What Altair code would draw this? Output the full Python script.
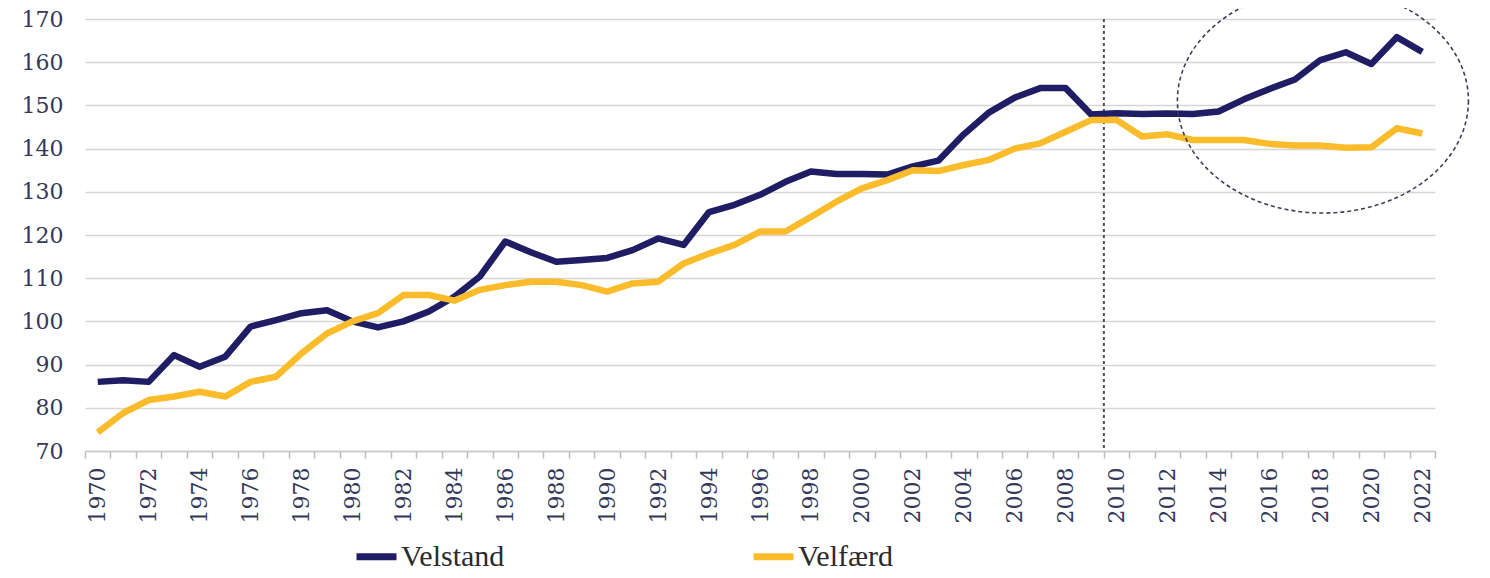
import altair as alt
import pandas as pd

# ---------------- data ----------------
years = list(range(1970, 2023))
velstand = [86.0, 86.4, 86.0, 92.2, 89.5, 91.8, 98.8, 100.3, 101.9, 102.6,
            100.0, 98.6, 100.0, 102.3, 105.7, 110.4, 118.5, 116.0, 113.8, 114.2,
            114.7, 116.5, 119.2, 117.7, 125.3, 127.0, 129.3, 132.3, 134.7, 134.1,
            134.1, 134.0, 135.9, 137.2, 143.3, 148.4, 151.8, 154.0, 154.0, 147.9,
            148.2, 148.0, 148.1, 148.0, 148.6, 151.4, 153.8, 156.0, 160.5, 162.3,
            159.6, 165.8, 162.4]
velfaerd = [74.3, 78.8, 81.8, 82.6, 83.7, 82.6, 86.0, 87.2, 92.6, 97.2,
            100.0, 101.9, 106.1, 106.1, 104.8, 107.3, 108.4, 109.2, 109.2, 108.4,
            106.9, 108.8, 109.2, 113.4, 115.7, 117.7, 120.8, 120.8, 124.2, 127.7,
            130.8, 132.7, 135.0, 134.8, 136.2, 137.4, 140.0, 141.2, 143.9, 146.6,
            146.6, 142.8, 143.3, 142.0, 142.0, 142.0, 141.1, 140.7, 140.7, 140.2,
            140.3, 144.7, 143.5]
series_names = ["Velstand", "Velfærd"]
series_colors = ["#1f1d63", "#fbbc2c"]
y_ticks = list(range(70, 171, 10))
break_year = [2009.5]
ellipse_year = [2018.1]
ellipse_value = [151.1]

# ---------------- layout ----------------
W, H = 1350, 432
x_domain = [years[0] - 0.5, years[-1] + 0.5]
boundaries = [y - 0.5 for y in years] + [years[-1] + 0.5]
half_band = W / len(years) / 2

df = pd.DataFrame({
    "year": years + years,
    "value": velstand + velfaerd,
    "series": [series_names[0]] * len(years) + [series_names[1]] * len(years),
})

xscale = alt.Scale(domain=x_domain, nice=False, zero=False)
yscale = alt.Scale(domain=[70, 170], nice=False, zero=False)
cscale = alt.Scale(domain=series_names, range=series_colors)

label_color = "#34385a"

x_axis = alt.Axis(
    values=boundaries,
    labelExpr="((datum.value + 0.5) % 2 == 0 && datum.value < 2022.6) ? format(datum.value + 0.5, 'd') : ''",
    labelOffset=half_band,
    labelAngle=-90,
    labelOverlap=False,
    labelFont="DejaVu Serif",
    labelFontSize=22,
    labelColor=label_color,
    labelPadding=9,
    ticks=True,
    tickSize=7,
    tickColor="#bdbdbd",
    tickWidth=1.5,
    domain=True,
    domainColor="#c8c8c8",
    domainWidth=1.5,
    grid=False,
    title=None,
)
y_axis = alt.Axis(
    values=y_ticks,
    labelFont="DejaVu Serif",
    labelFontSize=22,
    labelColor=label_color,
    labelPadding=22,
    ticks=False,
    domain=False,
    grid=True,
    gridColor="#d6d6d6",
    gridWidth=1.5,
    title=None,
)

base = alt.Chart(df)

line1 = base.transform_filter(alt.datum.series == series_names[0]).mark_line(
    strokeWidth=6.5, strokeJoin="round"
).encode(
    x=alt.X("year:Q", scale=xscale, axis=x_axis),
    y=alt.Y("value:Q", scale=yscale, axis=y_axis),
    color=alt.Color(
        "series:N", scale=cscale,
        legend=alt.Legend(
            orient="none", legendX=268, legendY=514, direction="horizontal",
            title=None, symbolType="stroke", symbolSize=1600, symbolStrokeWidth=7,
            labelFont="Liberation Serif", labelFontSize=30, labelColor="#2b2b2b",
            labelOffset=1, columnPadding=234, labelLimit=400,
        ),
    ),
)
line2 = base.transform_filter(alt.datum.series == series_names[1]).mark_line(
    strokeWidth=6.5, strokeJoin="round"
).encode(
    x=alt.X("year:Q", scale=xscale, axis=x_axis),
    y=alt.Y("value:Q", scale=yscale, axis=y_axis),
    color=alt.Color("series:N", scale=cscale),
)

rule = alt.Chart(pd.DataFrame({"x": break_year, "top": [170], "bottom": [70]})).mark_rule(
    color="#505050", strokeWidth=2, strokeDash=[3, 3]
).encode(
    x=alt.X("x:Q", scale=xscale, axis=x_axis),
    y=alt.Y("top:Q", scale=yscale, axis=y_axis),
    y2="bottom:Q",
)

ellipse_path = ("M 1.2945 0 C 1.2945 0.5523 0.715 1 0 1 C -0.715 1 -1.2945 0.5523 -1.2945 0 "
                "C -1.2945 -0.5523 -0.715 -1 0 -1 C 0.715 -1 1.2945 -0.5523 1.2945 0 Z")
ellipse = alt.Chart(pd.DataFrame({"x": ellipse_year, "y": ellipse_value})).mark_point(
    shape=ellipse_path, size=50535, filled=False, stroke="#3b3f5c",
    strokeWidth=1.6, strokeDash=[4, 3], opacity=1, clip=False,
).encode(
    x=alt.X("x:Q", scale=xscale, axis=x_axis),
    y=alt.Y("y:Q", scale=yscale, axis=y_axis),
)

chart = alt.layer(rule, line1, line2, ellipse).properties(
    width=W, height=H,
    background="white",
    autosize=alt.AutoSizeParams(type="none"),
    padding={"left": 77, "top": 11, "right": 47, "bottom": 127},
).configure_view(stroke=None)

chart.save("out.html", embed_options={"renderer": "svg", "actions": False})
